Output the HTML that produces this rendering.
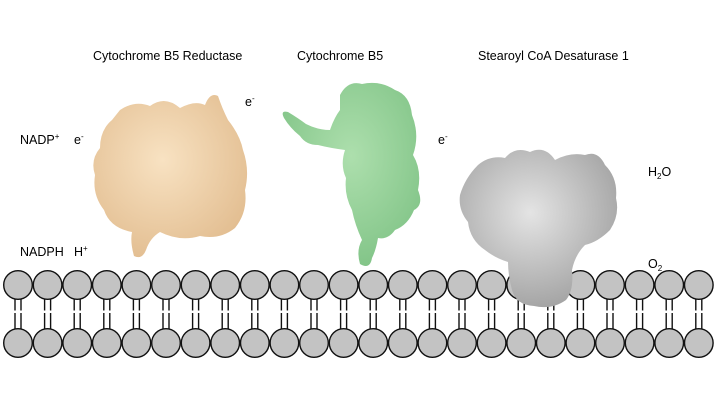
<!DOCTYPE html>
<html><head><style>
body{margin:0;background:#fff;}
.t{font-family:"Liberation Sans",sans-serif;font-size:12.5px;fill:#000;}
</style></head><body>
<svg width="720" height="405" viewBox="0 0 720 405" xmlns="http://www.w3.org/2000/svg">
<defs>
<radialGradient id="tan" cx="45%" cy="40%" r="65%"><stop offset="0" stop-color="#f8e2c2"/><stop offset="1" stop-color="#e2bd90"/></radialGradient>
<radialGradient id="grn" cx="50%" cy="40%" r="65%"><stop offset="0" stop-color="#addfad"/><stop offset="1" stop-color="#80c386"/></radialGradient>
<radialGradient id="gry" cx="45%" cy="40%" r="65%"><stop offset="0" stop-color="#e4e4e4"/><stop offset="1" stop-color="#a0a0a0"/></radialGradient>
</defs>
<text class="t" x="93" y="60">Cytochrome B5 Reductase</text>
<text class="t" x="297" y="60">Cytochrome B5</text>
<text class="t" x="478" y="60">Stearoyl CoA Desaturase 1</text>
<text class="t" x="20" y="144">NADP<tspan font-size="8" dy="-5">+</tspan></text>
<text class="t" x="74" y="144">e<tspan font-size="8" dy="-5">-</tspan></text>
<text class="t" x="245" y="106">e<tspan font-size="8" dy="-5">-</tspan></text>
<text class="t" x="438" y="144">e<tspan font-size="8" dy="-5">-</tspan></text>
<text class="t" x="648" y="176">H<tspan font-size="8" dy="3">2</tspan><tspan dy="-3">O</tspan></text>
<text class="t" x="20" y="256">NADPH</text>
<text class="t" x="74" y="256">H<tspan font-size="8" dy="-5">+</tspan></text>
<text class="t" x="648" y="268">O<tspan font-size="8" dy="3">2</tspan></text>
<g stroke="#111" stroke-width="1.4" fill="#c3c3c3">
<circle cx="18" cy="285" r="14.3"/><circle cx="18" cy="343" r="14.3"/>
<circle cx="47.6" cy="285" r="14.3"/><circle cx="47.6" cy="343" r="14.3"/>
<circle cx="77.2" cy="285" r="14.3"/><circle cx="77.2" cy="343" r="14.3"/>
<circle cx="106.8" cy="285" r="14.3"/><circle cx="106.8" cy="343" r="14.3"/>
<circle cx="136.4" cy="285" r="14.3"/><circle cx="136.4" cy="343" r="14.3"/>
<circle cx="166" cy="285" r="14.3"/><circle cx="166" cy="343" r="14.3"/>
<circle cx="195.6" cy="285" r="14.3"/><circle cx="195.6" cy="343" r="14.3"/>
<circle cx="225.2" cy="285" r="14.3"/><circle cx="225.2" cy="343" r="14.3"/>
<circle cx="254.8" cy="285" r="14.3"/><circle cx="254.8" cy="343" r="14.3"/>
<circle cx="284.4" cy="285" r="14.3"/><circle cx="284.4" cy="343" r="14.3"/>
<circle cx="314" cy="285" r="14.3"/><circle cx="314" cy="343" r="14.3"/>
<circle cx="343.6" cy="285" r="14.3"/><circle cx="343.6" cy="343" r="14.3"/>
<circle cx="373.2" cy="285" r="14.3"/><circle cx="373.2" cy="343" r="14.3"/>
<circle cx="402.8" cy="285" r="14.3"/><circle cx="402.8" cy="343" r="14.3"/>
<circle cx="432.4" cy="285" r="14.3"/><circle cx="432.4" cy="343" r="14.3"/>
<circle cx="462" cy="285" r="14.3"/><circle cx="462" cy="343" r="14.3"/>
<circle cx="491.6" cy="285" r="14.3"/><circle cx="491.6" cy="343" r="14.3"/>
<circle cx="521.2" cy="285" r="14.3"/><circle cx="521.2" cy="343" r="14.3"/>
<circle cx="550.8" cy="285" r="14.3"/><circle cx="550.8" cy="343" r="14.3"/>
<circle cx="580.4" cy="285" r="14.3"/><circle cx="580.4" cy="343" r="14.3"/>
<circle cx="610" cy="285" r="14.3"/><circle cx="610" cy="343" r="14.3"/>
<circle cx="639.6" cy="285" r="14.3"/><circle cx="639.6" cy="343" r="14.3"/>
<circle cx="669.2" cy="285" r="14.3"/><circle cx="669.2" cy="343" r="14.3"/>
<circle cx="698.8" cy="285" r="14.3"/><circle cx="698.8" cy="343" r="14.3"/>
</g>
<g stroke="#111" stroke-width="1.4" stroke-dasharray="11 2.5 16 0">
<path d="M15 299.5V328.5M21 299.5V328.5M44.6 299.5V328.5M50.6 299.5V328.5M74.2 299.5V328.5M80.2 299.5V328.5M103.8 299.5V328.5M109.8 299.5V328.5M133.4 299.5V328.5M139.4 299.5V328.5M163 299.5V328.5M169 299.5V328.5M192.6 299.5V328.5M198.6 299.5V328.5M222.2 299.5V328.5M228.2 299.5V328.5M251.8 299.5V328.5M257.8 299.5V328.5M281.4 299.5V328.5M287.4 299.5V328.5M311 299.5V328.5M317 299.5V328.5M340.6 299.5V328.5M346.6 299.5V328.5M370.2 299.5V328.5M376.2 299.5V328.5M399.8 299.5V328.5M405.8 299.5V328.5M429.4 299.5V328.5M435.4 299.5V328.5M459 299.5V328.5M465 299.5V328.5M488.6 299.5V328.5M494.6 299.5V328.5M518.2 299.5V328.5M524.2 299.5V328.5M547.8 299.5V328.5M553.8 299.5V328.5M577.4 299.5V328.5M583.4 299.5V328.5M607 299.5V328.5M613 299.5V328.5M636.6 299.5V328.5M642.6 299.5V328.5M666.2 299.5V328.5M672.2 299.5V328.5M695.8 299.5V328.5M701.8 299.5V328.5"/>
</g>
<path fill="url(#tan)" d="M120 110 Q135 100 150 106 Q165 95 180 108 Q195 100 205 105 Q210 92 218 96 Q222 108 228 120 Q240 135 243 150 Q250 170 245 190 Q248 212 235 228 Q220 240 200 236 Q180 242 160 232 Q150 238 146 250 Q142 260 134 256 Q130 242 132 232 Q110 228 104 210 Q92 195 95 175 Q90 160 100 148 Q100 130 112 120 Z"/>
<path fill="url(#grn)" d="M340 95 Q348 80 362 84 Q380 80 395 90 Q410 95 412 115 Q420 135 413 155 Q422 170 418 190 Q424 205 414 210 Q408 225 395 230 Q388 240 378 238 Q376 250 372 258 Q370 270 360 264 Q356 250 362 240 Q355 225 352 210 Q344 195 346 178 Q340 165 345 150 Q330 148 318 145 Q306 145 300 136 Q290 128 284 118 Q280 110 288 112 Q298 118 306 124 Q318 130 330 130 Q334 118 340 110 Z"/>
<path fill="url(#gry)" d="M478 165 Q490 155 505 158 Q515 146 530 152 Q545 145 555 160 Q570 152 585 155 Q598 150 605 165 Q618 178 616 198 Q620 215 610 230 Q598 242 585 245 Q575 255 572 270 Q574 290 566 300 Q552 310 534 306 Q516 305 512 290 Q508 275 508 262 Q495 258 485 250 Q470 240 468 222 Q458 210 460 195 Q465 178 478 165 Z"/>
</svg>
</body></html>
